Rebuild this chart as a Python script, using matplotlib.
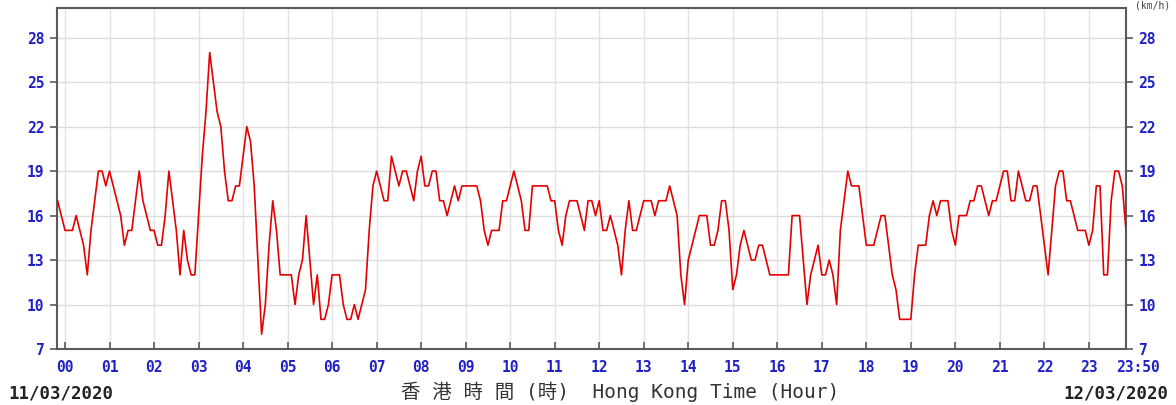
import matplotlib
matplotlib.use("Agg")
import matplotlib.pyplot as plt
import matplotlib.transforms as mtransforms
import numpy as np

# ── Data: 5-minute wind speed (km/h), from 23:50 previous day to 23:50 ──
pre_midnight = [17, 16]
hour_00 = [15, 15, 15, 16, 15, 14, 12, 15, 17, 19, 19, 18]
hour_01 = [19, 18, 17, 16, 14, 15, 15, 17, 19, 17, 16, 15]
hour_02 = [15, 14, 14, 16, 19, 17, 15, 12, 15, 13, 12, 12]
hour_03 = [16, 20, 23, 27, 25, 23, 22, 19, 17, 17, 18, 18]
hour_04 = [20, 22, 21, 18, 13, 8, 10, 14, 17, 15, 12, 12]
hour_05 = [12, 12, 10, 12, 13, 16, 13, 10, 12, 9, 9, 10]
hour_06 = [12, 12, 12, 10, 9, 9, 10, 9, 10, 11, 15, 18]
hour_07 = [19, 18, 17, 17, 20, 19, 18, 19, 19, 18, 17, 19]
hour_08 = [20, 18, 18, 19, 19, 17, 17, 16, 17, 18, 17, 18]
hour_09 = [18, 18, 18, 18, 17, 15, 14, 15, 15, 15, 17, 17]
hour_10 = [18, 19, 18, 17, 15, 15, 18, 18, 18, 18, 18, 17]
hour_11 = [17, 15, 14, 16, 17, 17, 17, 16, 15, 17, 17, 16]
hour_12 = [17, 15, 15, 16, 15, 14, 12, 15, 17, 15, 15, 16]
hour_13 = [17, 17, 17, 16, 17, 17, 17, 18, 17, 16, 12, 10]
hour_14 = [13, 14, 15, 16, 16, 16, 14, 14, 15, 17, 17, 15]
hour_15 = [11, 12, 14, 15, 14, 13, 13, 14, 14, 13, 12, 12]
hour_16 = [12, 12, 12, 12, 16, 16, 16, 13, 10, 12, 13, 14]
hour_17 = [12, 12, 13, 12, 10, 15, 17, 19, 18, 18, 18, 16]
hour_18 = [14, 14, 14, 15, 16, 16, 14, 12, 11, 9, 9, 9]
hour_19 = [9, 12, 14, 14, 14, 16, 17, 16, 17, 17, 17, 15]
hour_20 = [14, 16, 16, 16, 17, 17, 18, 18, 17, 16, 17, 17]
hour_21 = [18, 19, 19, 17, 17, 19, 18, 17, 17, 18, 18, 16]
hour_22 = [14, 12, 15, 18, 19, 19, 17, 17, 16, 15, 15, 15]
hour_23 = [14, 15, 18, 18, 12, 12, 17, 19, 19, 18, 15]

speed = (pre_midnight + hour_00 + hour_01 + hour_02 + hour_03 + hour_04 + hour_05
         + hour_06 + hour_07 + hour_08 + hour_09 + hour_10 + hour_11 + hour_12
         + hour_13 + hour_14 + hour_15 + hour_16 + hour_17 + hour_18 + hour_19
         + hour_20 + hour_21 + hour_22 + hour_23)
minutes = np.arange(-10, 1431, 5)
hours = minutes / 60.0

x_ticks = list(range(24)) + [23 + 50 / 60]
x_labels = [f"{h:02d}" for h in range(24)] + ["23:50"]
y_ticks = [7, 10, 13, 16, 19, 22, 25, 28]

BLUE = "#2020c8"
SPINE = "#5a5a5a"

fig = plt.figure(figsize=(11.76, 4.05), dpi=100)
ax = fig.add_axes([57 / 1176, 1 - 349 / 405, (1126 - 57) / 1176, (349 - 8) / 405])

# grid
for h in range(24):
    ax.axvline(h, color="#e4e4e4", lw=1.0, zorder=0)
for v in y_ticks[1:]:
    ax.axhline(v, color="#dcdcdc", lw=1.0, zorder=0)

ax.plot(hours, speed, color="#e40000", lw=1.2, zorder=3)

ax.set_xlim(-0.18, 23 + 50 / 60)
ax.set_ylim(7, 30)

ax.set_xticks(x_ticks)
ax.set_xticklabels(x_labels)
ax.set_yticks(y_ticks)
ax.set_yticklabels([str(v) for v in y_ticks])

ax.tick_params(axis="x", direction="in", length=5, width=1.2, color=SPINE,
               labelsize=10.5, labelcolor=BLUE, pad=8)
ax.tick_params(axis="y", direction="out", length=5, width=1.2, color=SPINE,
               labelsize=10.5, labelcolor=BLUE, right=True, labelright=True, pad=4)
for lab in ax.get_xticklabels() + ax.get_yticklabels():
    lab.set_family("DejaVu Sans Mono")
    lab.set_fontweight("bold")

# shift the last "23:50" label a little to the right like the original
last = ax.get_xticklabels()[-1]
last.set_transform(last.get_transform() +
                   mtransforms.ScaledTranslation(12 / 100, 0, fig.dpi_scale_trans))

for side in ["left", "right", "bottom", "top"]:
    ax.spines[side].set_color(SPINE)
    ax.spines[side].set_linewidth(1.5)

# bottom texts
fig.text(8 / 1176, 1 - 393 / 405, "11/03/2020", ha="left", va="center",
         family="DejaVu Sans Mono", fontweight="bold", fontsize=12.5, color="#222222")
fig.text(1168 / 1176, 1 - 393 / 405, "12/03/2020", ha="right", va="center",
         family="DejaVu Sans Mono", fontweight="bold", fontsize=12.5, color="#222222")
fig.text(620 / 1176, 1 - 392 / 405, "香 港 時 間 (時)  Hong Kong Time (Hour)",
         ha="center", va="center", family=["DejaVu Sans Mono", "Noto Sans CJK TC"],
         fontsize=14, color="#333333")

# unit text squeezed into the strip above the plot
fig.text(1170 / 1176, 1.0, "(km/h)", ha="right", va="top",
         family="DejaVu Sans Mono", fontsize=7, color="#444444")

fig.savefig("out.png", dpi=100)
